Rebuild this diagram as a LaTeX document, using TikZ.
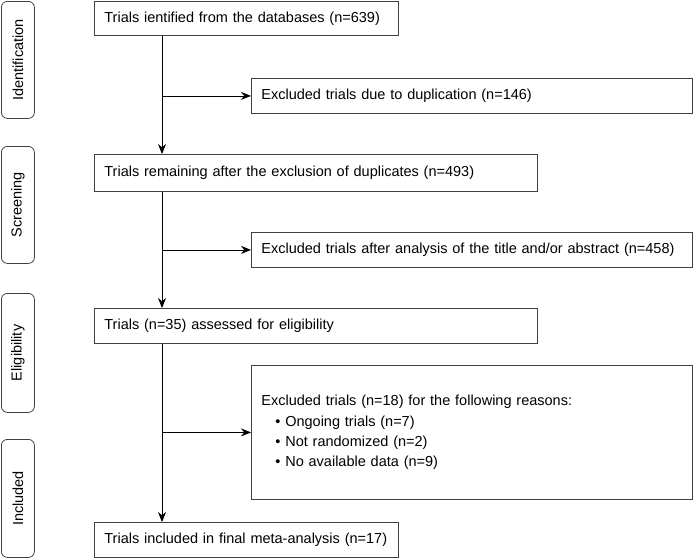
\documentclass[tikz,border=0pt]{standalone}
\usepackage{fontspec}
\setmainfont{Liberation Sans}
\usetikzlibrary{arrows.meta}
\begin{document}
\begin{tikzpicture}[x=1pt,y=-1pt,
  box/.style={draw=black!75, line width=0.8pt, anchor=north west, inner xsep=10pt, inner ysep=0pt, align=left, font=\fontsize{14.5}{20.3}\selectfont},
  side/.style={draw=black!75, line width=0.8pt, rounded corners=6pt, anchor=north west, minimum width=33pt, inner sep=0pt},
  sidetext/.style={rotate=90, font=\fontsize{14.5}{16}\selectfont},
  arr/.style={-{Stealth[length=10pt,width=8pt]}, line width=0.8pt, black}]
\useasboundingbox (0,0) rectangle (693,558);
% side labels
\node[side, minimum height=117pt] (sid) at (1,1) {};
\node[sidetext] (sidt) at (sid.center) {Identification};
\node[side, minimum height=117pt] (sscr) at (1,146) {};
\node[sidetext] (sscrt) at (sscr.center) {Screening};
\node[side, minimum height=119pt] (selig) at (1,293) {};
\node[sidetext] (seligt) at (selig.center) {Eligibility};
\node[side, minimum height=118pt] (sinc) at (1,439) {};
\node[sidetext] (sinct) at (sinc.center) {Included};
% main boxes
\node[box, text width=284pt, minimum height=34pt] (b1) at (94,1) {Trials ientified from the databases (n=639)};
\node[box, text width=421pt, minimum height=35pt] (e1) at (251,78) {Excluded trials due to duplication (n=146)};
\node[box, text width=423pt, minimum height=37pt] (b2) at (94,154) {Trials remaining after the exclusion of duplicates (n=493)};
\node[box, text width=421pt, minimum height=35pt] (e2) at (251,232) {Excluded trials after analysis of the title and/or abstract (n=458)};
\node[box, text width=423pt, minimum height=35pt] (b3) at (94,308) {Trials (n=35) assessed for eligibility};
\node[box, text width=421pt, minimum height=134pt] (e3) at (251,365) {Excluded trials (n=18) for the following reasons:\\
\hspace*{14pt}\textbullet\ Ongoing trials (n=7)\\
\hspace*{14pt}\textbullet\ Not randomized (n=2)\\
\hspace*{14pt}\textbullet\ No available data (n=9)};
\node[box, text width=284pt, minimum height=35pt] (b4) at (94,522) {Trials included in final meta-analysis (n=17)};
% connectors
\coordinate (v) at (162,0);
\draw[arr] (b1.south -| v) -- (b2.north -| v);
\draw[arr] (b2.south -| v) -- (b3.north -| v);
\draw[arr] (b3.south -| v) -- (b4.north -| v);
\draw[arr] (v |- e1.west) -- (e1.west);
\draw[arr] (v |- e2.west) -- (e2.west);
\draw[arr] (v |- e3.west) -- (e3.west);
\end{tikzpicture}
\end{document}
